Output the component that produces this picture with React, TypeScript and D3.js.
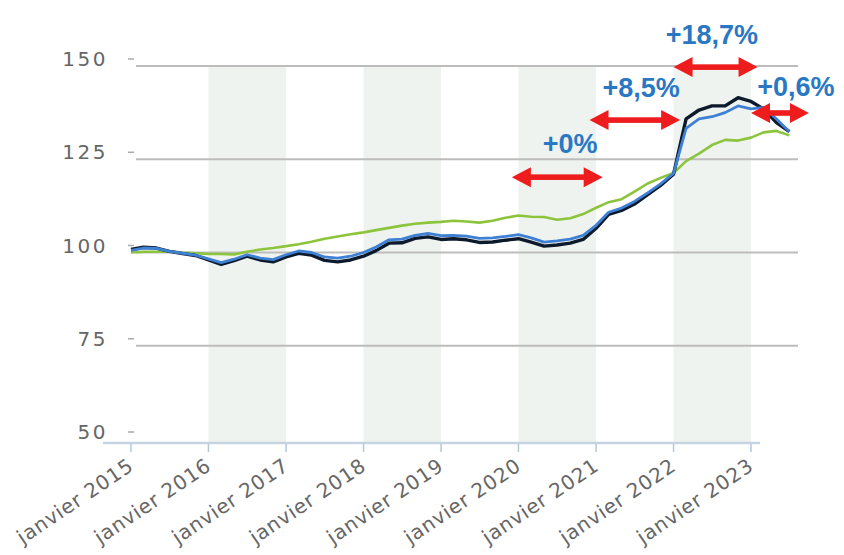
import * as d3 from "d3";

// index, base 100 = janvier 2015, one point every two months
const black = [
  100.8, 101.4, 101.2, 100.3, 99.7, 99.2, 98.0, 96.8, 97.8, 99.0, 98.0, 97.5,
  98.8, 99.8, 99.3, 97.9, 97.5, 98.0, 99.0, 100.5, 102.5, 102.6, 103.8, 104.2,
  103.5, 103.7, 103.4, 102.7, 102.8, 103.3, 103.7, 102.8, 101.7, 102.0, 102.5,
  103.5, 106.5, 110.2, 111.3, 113.0, 115.5, 118.0, 121.0, 135.8, 138.2, 139.3,
  139.3, 141.5, 140.5, 138.5, 134.8, 132.4,
];
const blue = [
  100.6, 101.2, 101.1, 100.3, 99.8, 99.3, 98.3, 97.3, 98.2, 99.4, 98.5, 98.1,
  99.4, 100.4, 100.0, 98.8, 98.5, 99.0, 100.0, 101.5, 103.4, 103.6, 104.6,
  105.1, 104.5, 104.6, 104.4, 103.8, 103.9, 104.3, 104.8, 103.9, 102.8, 103.1,
  103.6, 104.6, 107.3, 110.8, 111.9, 113.7, 116.0, 118.4, 121.2, 133.3, 135.8,
  136.4, 137.5, 139.3, 138.5, 138.9, 135.8, 132.4,
];
const green = [
  100.0, 100.2, 100.2, 100.3, 100.0, 99.8, 99.6, 99.6, 99.5, 100.2, 100.8,
  101.2, 101.7, 102.2, 102.9, 103.7, 104.3, 104.9, 105.4, 106.0, 106.6, 107.2,
  107.7, 108.0, 108.2, 108.5, 108.3, 108.0, 108.5, 109.3, 109.9, 109.6, 109.5,
  108.8, 109.2, 110.3, 112.0, 113.5, 114.3, 116.3, 118.5, 120.0, 121.3, 124.5,
  126.5, 128.8, 130.2, 130.0, 130.8, 132.2, 132.6, 131.4,
];
const dates = d3.timeMonth.range(new Date(2015, 0, 1), new Date(2023, 7, 1), 2);

const yTicks = [50, 75, 100, 125, 150];
const gridValues = [75, 100, 125, 150];
const tickYears = [2015, 2016, 2017, 2018, 2019, 2020, 2021, 2022, 2023];
const bandYears = [2016, 2018, 2020, 2022];

const gains = [
  { label: "+0%", from: "2019-12", to: "2021-02", arrow: 120.2, at: "2020-09", text: 129.1 },
  { label: "+8,5%", from: "2020-12", to: "2022-02", arrow: 135.5, at: "2021-08", text: 144.1 },
  { label: "+18,7%", from: "2022-01", to: "2023-02", arrow: 149.7, at: "2022-07", text: 158.3 },
  { label: "+0,6%", from: "2023-01", to: "2023-10", arrow: 137.4, at: "2023-08", text: 144.4 },
];

const width = 844;
const height = 555;
const axisY = 443;

const month = d3.timeParse("%Y-%m");

export default function App() {
  const x = d3.scaleTime([new Date(2015, 0, 1), new Date(2023, 0, 1)], [131, 751]);
  const y = d3.scaleLinear([50, 150], [439, 66]);
  const line = (vals: number[]) =>
    d3.line<number>((d, i) => x(dates[i]), (d) => y(d))(vals);

  const arrow = (x0: number, x1: number, yy: number) => {
    const hl = 19;
    const hw = 10;
    return (
      <g fill="#ee1c1c" stroke="none">
        <rect x={x0 + hl - 2} y={yy - 2.8} width={x1 - x0 - 2 * hl + 4} height={5.6} />
        <path d={`M${x0},${yy}L${x0 + hl},${yy - hw}L${x0 + hl},${yy + hw}Z`} />
        <path d={`M${x1},${yy}L${x1 - hl},${yy - hw}L${x1 - hl},${yy + hw}Z`} />
      </g>
    );
  };

  return (
    <svg
      width={width}
      height={height}
      style={{ position: "absolute", left: 0, top: 0, background: "#fff" }}
      fontFamily="'DejaVu Sans', Verdana, sans-serif"
    >
      {bandYears.map((yr) => (
        <rect
          key={yr}
          x={x(new Date(yr, 0, 1))}
          y={y(150) + 1}
          width={x(new Date(yr + 1, 0, 1)) - x(new Date(yr, 0, 1))}
          height={axisY - y(150) - 1}
          fill="#eef3ef"
        />
      ))}
      {gridValues.map((v) => (
        <line key={v} x1={136} x2={798} y1={y(v)} y2={y(v)} stroke="#bdbdbd" strokeWidth={1.8} />
      ))}
      {yTicks.map((v) => (
        <g key={v} transform={`translate(0,${y(v) - 7})`}>
          <line x1={128} x2={134} stroke="#aaa" strokeWidth={1.5} />
          <text
            x={108}
            dy="0.35em"
            textAnchor="end"
            fontSize={20}
            letterSpacing={2.5}
            fill="#666"
          >
            {v}
          </text>
        </g>
      ))}
      <line x1={103} x2={760} y1={axisY} y2={axisY} stroke="#c6d3e1" strokeWidth={2.5} />
      {tickYears.map((yr) => {
        const tx = x(new Date(yr, 0, 1));
        return (
          <g key={yr} transform={`translate(${tx},${axisY})`}>
            <line y1={1} y2={9} stroke="#b7c7d8" strokeWidth={1.5} />
            <text
              transform="translate(4,26) rotate(-34)"
              textAnchor="end"
              fontSize={20}
              letterSpacing={0.8}
              fill="#666"
            >
              {`janvier ${yr}`}
            </text>
          </g>
        );
      })}
      <path d={line(green) ?? ""} fill="none" stroke="#8cc43c" strokeWidth={2.6} strokeLinejoin="round" />
      <path d={line(black) ?? ""} fill="none" stroke="#0d1a2c" strokeWidth={3.4} strokeLinejoin="round" />
      <path d={line(blue) ?? ""} fill="none" stroke="#3d80d4" strokeWidth={2.8} strokeLinejoin="round" />
      {gains.map((g) => (
        <g key={g.label}>
          {arrow(x(month(g.from)!), x(month(g.to)!), y(g.arrow))}
          <text
            x={x(month(g.at)!)}
            y={y(g.text)}
            dy="0.35em"
            textAnchor="middle"
            fontFamily="'Liberation Sans', Arial, sans-serif"
            fontWeight="bold"
            fontSize={27}
            fill="#2a78c4"
          >
            {g.label}
          </text>
        </g>
      ))}
    </svg>
  );
}
